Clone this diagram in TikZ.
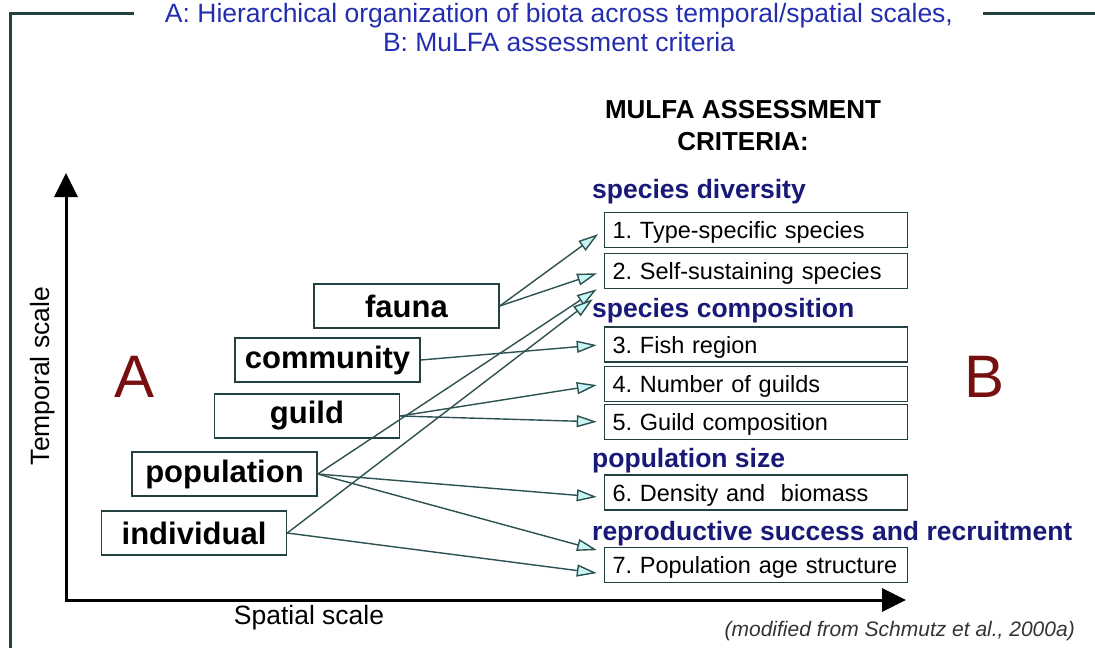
\documentclass[tikz,border=0pt]{standalone}
\usepackage{fontspec}
\setmainfont{Liberation Sans}
\usetikzlibrary{arrows.meta}

\definecolor{framegray}{RGB}{35,65,65}
\definecolor{linkgray}{RGB}{45,80,80}
\definecolor{tipcyan}{RGB}{200,245,245}
\definecolor{titleblue}{RGB}{35,45,175}
\definecolor{headnavy}{RGB}{25,25,120}
\definecolor{letterred}{RGB}{120,15,15}

\begin{document}
\frenchspacing
\begin{tikzpicture}[x=1pt,y=-1pt,>=Latex,
  levelbox/.style={draw=framegray,line width=1.5pt,fill=white,minimum width=185pt,minimum height=44pt,inner sep=0pt,font=\fontsize{31}{36}\selectfont\bfseries},
  critbox/.style={draw=framegray,line width=1.5pt,fill=white,text width=287pt,inner xsep=8pt,inner ysep=0pt,minimum height=35pt,align=left,text height=20pt,text depth=3pt,font=\fontsize{23.5}{28}\selectfont},
  crithead/.style={anchor=base west,inner sep=0pt,text=headnavy,font=\fontsize{26.5}{30}\selectfont\bfseries},
  plainlabel/.style={inner sep=0pt,font=\fontsize{26.5}{30}\selectfont},
  link/.style={-{Triangle[length=20pt,width=12pt,fill=tipcyan]},draw=linkgray,line width=1.4pt,shorten >=7pt}]
\useasboundingbox (0,0) rectangle (1095,648);

% frame and title
\draw[framegray,line width=3pt] (134,13) -- (10,13) -- (10,648);
\draw[framegray,line width=3pt] (983,13) -- (1095,13);
\node[plainlabel,anchor=base,text=titleblue] (title1) at (559,22) {A: Hierarchical organization of biota across temporal/spatial scales,};
\node[plainlabel,anchor=base,text=titleblue] (title2) at (559,51) {B: MuLFA assessment criteria};

% axes
\coordinate (ytop) at (66,173);
\coordinate (origin) at (66,600);
\coordinate (xend) at (906,600);
\draw[line width=3pt,{Triangle[length=24pt,width=23pt]}-{Triangle[length=24pt,width=23pt]}] (ytop) -- (origin) -- (xend);
\node[plainlabel,rotate=90] (tlabel) at (43,376) {Temporal scale};
\node[plainlabel,anchor=base] (slabel) at (309,624) {Spatial scale};
\node[inner sep=0pt,anchor=base,text=letterred,font=\fontsize{60}{60}\selectfont] (lettA) at (135,397) {A};
\node[inner sep=0pt,anchor=base,text=letterred,font=\fontsize{60}{60}\selectfont] (lettB) at (984,397) {B};

% levels of organization
\node[levelbox] (fauna) at (406.5,306) {fauna};
\node[levelbox] (community) at (327.5,360) {community};
\node[levelbox] (guild) at (307,416) {guild};
\node[levelbox] (population) at (224.5,474) {population};
\node[levelbox] (individual) at (194,533) {individual};

% assessment criteria
\node[plainlabel,anchor=base,font=\fontsize{26}{30}\selectfont\bfseries] (mulfa1) at (743,118) {MULFA ASSESSMENT};
\node[plainlabel,anchor=base,font=\fontsize{26}{30}\selectfont\bfseries] (mulfa2) at (743,150) {CRITERIA:};
\node[crithead] (hdiv) at (592,198) {species diversity};
\node[critbox] (c1) at (756,230) {1. Type-specific species};
\node[critbox] (c2) at (756,271) {2. Self-sustaining species};
\node[crithead] (hcomp) at (592,317) {species composition};
\node[critbox] (c3) at (756,344.5) {3. Fish region};
\node[critbox] (c4) at (756,384) {4. Number of guilds};
\node[critbox] (c5) at (756,422) {5. Guild composition};
\node[crithead] (hsize) at (592,467) {population size};
\node[critbox] (c6) at (756,492.5) {6. Density and~ biomass};
\node[crithead] (hrep) at (592,540) {reproductive success and recruitment};
\node[critbox] (c7) at (756,565) {7. Population age structure};

\node[inner sep=0pt,anchor=base east,text=black!80,font=\fontsize{21}{24}\selectfont\itshape] (cite) at (1075,636) {(modified from Schmutz et al., 2000a)};

% links
\draw[link] (fauna.east) -- (c1.west);
\draw[link] (fauna.east) -- (c2.west);
\draw[link,shorten >=0pt] (population.east) -- ([xshift=-7pt]c2.south west);
\draw[link,shorten >=0pt] (individual.east) -- ([xshift=-11pt,yshift=-10pt]c2.south west);
\draw[link] (community.east) -- (c3.west);
\draw[link] (guild.east) -- (c4.west);
\draw[link] (guild.east) -- (c5.west);
\draw[link] (population.east) -- ([yshift=-5pt]c6.west);
\draw[link] (population.east) -- ([yshift=13pt]c7.west);
\draw[link] (individual.east) -- ([yshift=-9pt]c7.west);
\end{tikzpicture}
\end{document}
